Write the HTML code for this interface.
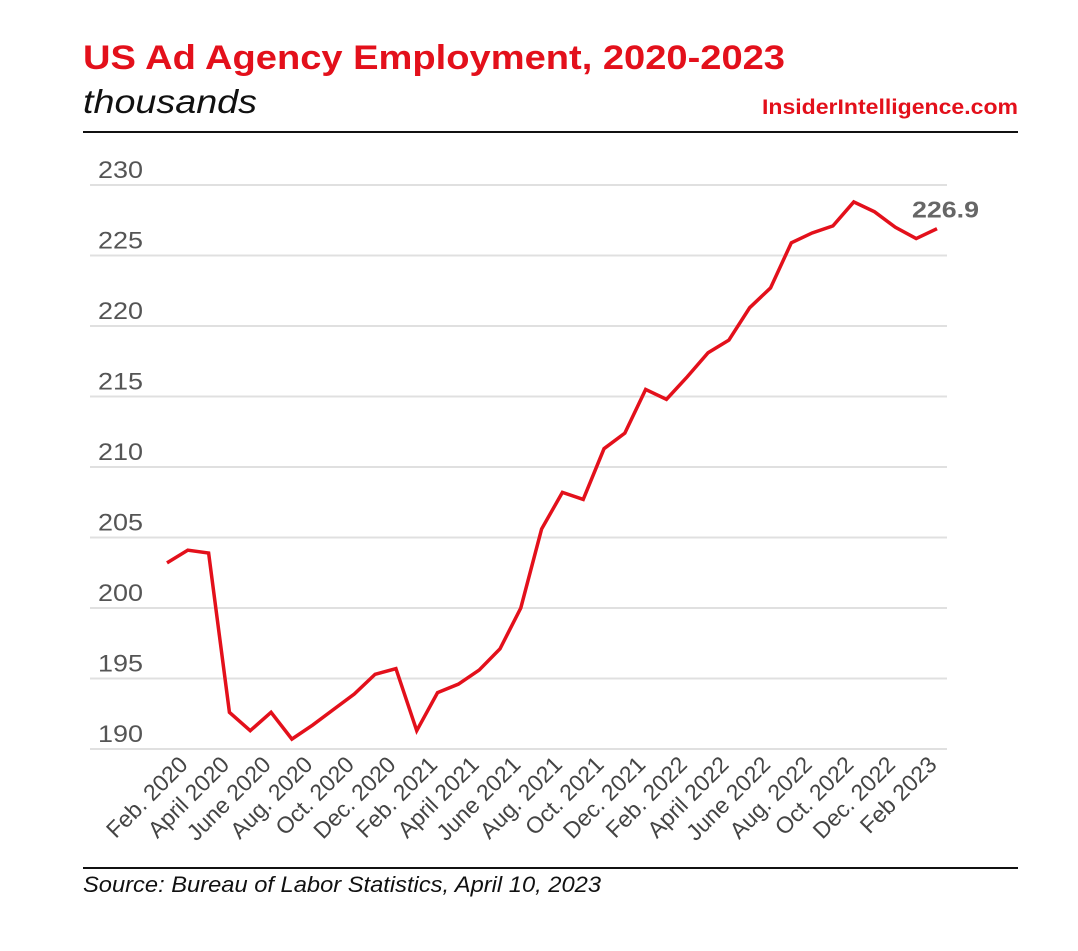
<!DOCTYPE html>
<html><head><meta charset="utf-8"><style>
body{margin:0;background:#fff;width:1078px;height:946px;overflow:hidden;font-family:"Liberation Sans",sans-serif}
</style></head><body>
<svg width="1078" height="946" xmlns="http://www.w3.org/2000/svg">
<text x="83" y="69" font-size="34" font-weight="bold" fill="#e3101b" textLength="702" lengthAdjust="spacingAndGlyphs">US Ad Agency Employment, 2020-2023</text>
<text x="83" y="113" font-size="33" font-style="italic" fill="#111" textLength="174" lengthAdjust="spacingAndGlyphs">thousands</text>
<text x="762" y="114" font-size="21" font-weight="bold" fill="#e3101b" textLength="256" lengthAdjust="spacingAndGlyphs">InsiderIntelligence.com</text>
<line x1="83" x2="1018" y1="132" y2="132" stroke="#111" stroke-width="2"/>
<line x1="83" x2="1018" y1="868" y2="868" stroke="#111" stroke-width="2"/>
<text x="83" y="892" font-size="22" font-style="italic" fill="#111" textLength="518" lengthAdjust="spacingAndGlyphs">Source: Bureau of Labor Statistics, April 10, 2023</text>
<g id="grid"></g><g id="ylab"></g><g id="xlab"></g><g id="series"></g>
</svg>
<script>
const yTicks=[190,195,200,205,210,215,220,225,230];
const xLabels=["Feb. 2020","April 2020","June 2020","Aug. 2020","Oct. 2020","Dec. 2020","Feb. 2021","April 2021","June 2021","Aug. 2021","Oct. 2021","Dec. 2021","Feb. 2022","April 2022","June 2022","Aug. 2022","Oct. 2022","Dec. 2022","Feb 2023"];
const values=[203.2,204.1,203.9,192.6,191.3,192.6,190.7,191.7,192.8,193.9,195.3,195.7,191.3,194.0,194.6,195.6,197.1,200.0,205.6,208.2,207.7,211.3,212.4,215.5,214.8,216.4,218.1,219.0,221.3,222.7,225.9,226.6,227.1,228.8,228.1,227.0,226.2,226.9];
const lastLabel="226.9";
const NS="http://www.w3.org/2000/svg";
const x0=167,x1=937,yTop=185,yBot=749;
function xs(i){return x0+(x1-x0)*i/(values.length-1);}
function ys(v){return yBot-(v-190)/(230-190)*(yBot-yTop);}
function mk(t,a,p,txt){const e=document.createElementNS(NS,t);for(const k in a)e.setAttribute(k,a[k]);if(txt!=null)e.textContent=txt;p.appendChild(e);return e;}
const G=document.getElementById('grid'),YL=document.getElementById('ylab'),XL=document.getElementById('xlab'),S=document.getElementById('series');
yTicks.forEach(v=>{
 const l=mk('line',{x1:90,x2:947,y1:ys(v),y2:ys(v),stroke:'#e0e0e0','stroke-width':2},G);
 
 
 const t=mk('text',{x:98,y:ys(v)-7,'font-size':24,fill:'#555',textLength:45,lengthAdjust:'spacingAndGlyphs'},YL,String(v));
 
 
});
xLabels.forEach((s,j)=>{
 const x=xs(j*2)+22,y=766;
 const t=mk('text',{x:x,y:y,'font-size':23,fill:'#444','text-anchor':'end',transform:`rotate(-45 ${x} ${y})`},XL,s);
 
 
});
const p=mk('polyline',{points:values.map((v,i)=>xs(i)+','+ys(v)).join(' '),fill:'none',stroke:'#e3101b','stroke-width':3.5,'stroke-linejoin':'miter'},S);


const n=values.length-1;
const lt=mk('text',{x:xs(n)-25,y:ys(values[n])-11,'font-size':23,'font-weight':'bold',fill:'#666',textLength:67,lengthAdjust:'spacingAndGlyphs'},S,lastLabel);


</script>
</body></html>
